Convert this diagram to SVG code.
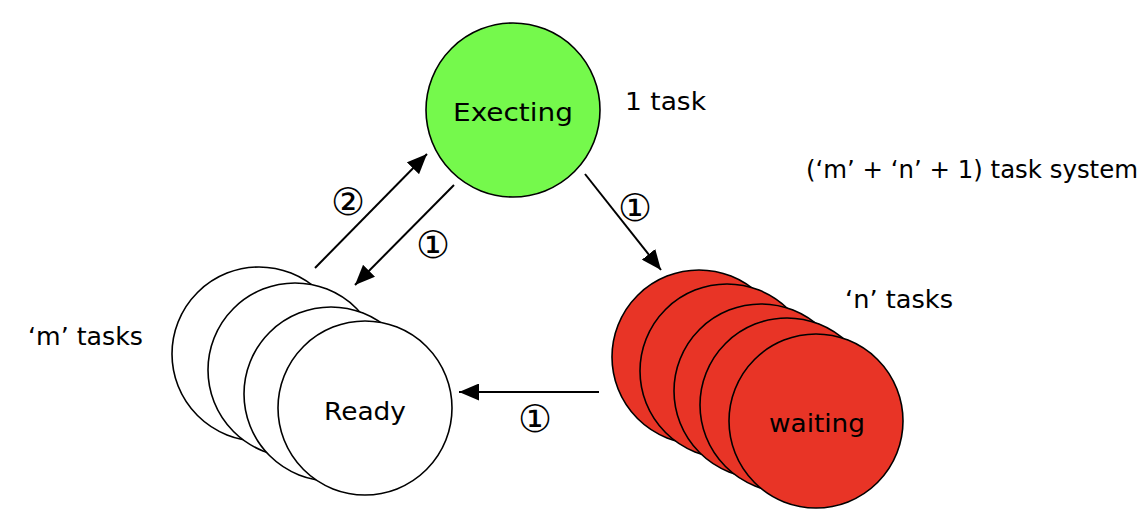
<svg xmlns="http://www.w3.org/2000/svg" width="1148" height="524" viewBox="0 0 1148 524">
<style>
text{font-family:"DejaVu Sans","Noto Sans",sans-serif;fill:#000}
.lbl{font-size:25px}
.num{font-size:38px;text-anchor:middle}
.st{stroke:#000;stroke-width:1.6}
.ready{fill:#fff}
.wait{fill:#e83426}
.line{stroke:#000;stroke-width:2;fill:none}
</style>
<defs>
<marker id="ah" viewBox="0 0 20 17" refX="20" refY="8.5" markerWidth="20" markerHeight="17" markerUnits="userSpaceOnUse" orient="auto">
<path d="M0,0 L20,8.5 L0,17 Z" fill="#000"/>
</marker>
</defs>
<rect width="1148" height="524" fill="#fff"/>

<g id="executing">
<circle cx="513" cy="110" r="87" fill="#75f94c" class="st"/>
<text class="lbl" x="513" y="121" text-anchor="middle" textLength="120" lengthAdjust="spacingAndGlyphs">Execting</text>
</g>

<g id="ready">
<circle class="ready st" cx="259" cy="354" r="87"/>
<circle class="ready st" cx="295" cy="370" r="87"/>
<circle class="ready st" cx="331" cy="394" r="87"/>
<circle class="ready st" cx="365" cy="408" r="87"/>
<text class="lbl" x="365" y="420" text-anchor="middle" textLength="82" lengthAdjust="spacingAndGlyphs">Ready</text>
</g>

<g id="waiting">
<circle class="wait st" cx="699" cy="357" r="87"/>
<circle class="wait st" cx="727" cy="371" r="87"/>
<circle class="wait st" cx="761" cy="391" r="87"/>
<circle class="wait st" cx="787" cy="405" r="87"/>
<circle class="wait st" cx="816" cy="421" r="87"/>
<text class="lbl" x="817" y="432" text-anchor="middle" textLength="96" lengthAdjust="spacingAndGlyphs">waiting</text>
</g>

<g id="labels">
<text class="lbl" x="625" y="110" textLength="81" lengthAdjust="spacingAndGlyphs">1 task</text>
<text class="lbl" x="806" y="178" textLength="332" lengthAdjust="spacingAndGlyphs">(‘m’ + ‘n’ + 1) task system</text>
<text class="lbl" x="845" y="308" textLength="108" lengthAdjust="spacingAndGlyphs">‘n’ tasks</text>
<text class="lbl" x="28" y="345" textLength="115" lengthAdjust="spacingAndGlyphs">‘m’ tasks</text>
</g>

<g id="connectors">
<line class="line" x1="315" y1="268" x2="427" y2="154" marker-end="url(#ah)"/>
<line class="line" x1="454" y1="185" x2="355" y2="285" marker-end="url(#ah)"/>
<line class="line" x1="585" y1="174" x2="661" y2="270" marker-end="url(#ah)"/>
<line class="line" x1="599" y1="392" x2="459" y2="392" marker-end="url(#ah)"/>
<text class="num" x="348" y="215">②</text>
<text class="num" x="433" y="258">①</text>
<text class="num" x="635" y="221">①</text>
<text class="num" x="535" y="432">①</text>
</g>
</svg>
